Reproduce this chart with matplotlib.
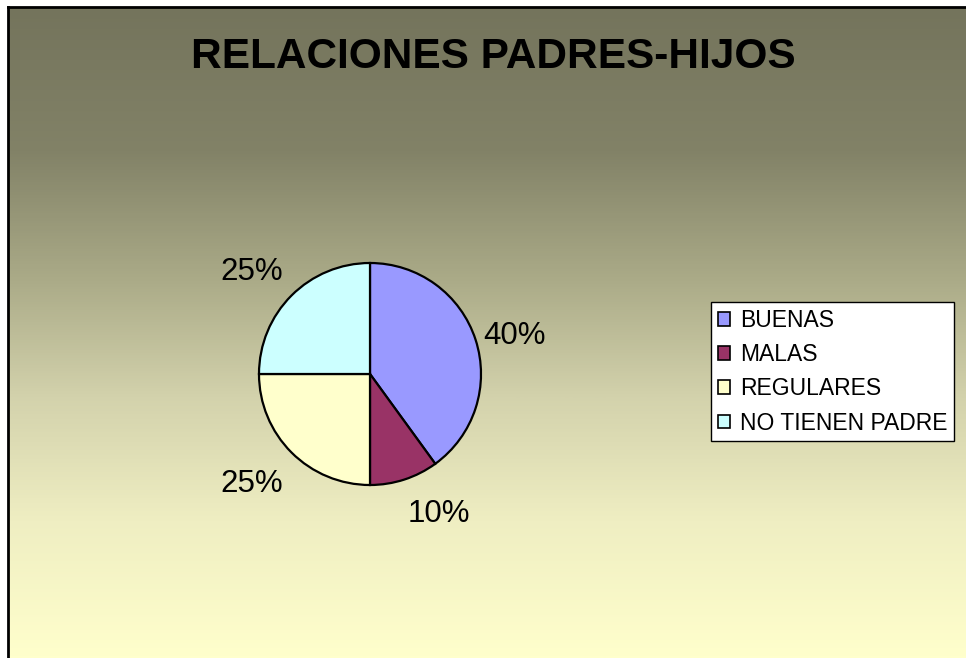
import numpy as np
import matplotlib
matplotlib.use("Agg")
import matplotlib.pyplot as plt
from matplotlib.patches import Patch
from matplotlib.colors import LinearSegmentedColormap

plt.rcParams['font.family'] = ['Liberation Sans', 'DejaVu Sans']

title = "RELACIONES PADRES-HIJOS"
categories = ["BUENAS", "MALAS", "REGULARES", "NO TIENEN PADRE"]
values = [40, 10, 25, 25]
colors = ["#9999FF", "#993366", "#FFFFCC", "#CCFFFF"]

W, H = 966, 658
fig = plt.figure(figsize=(W / 100, H / 100), dpi=100)
fig.patch.set_facecolor("white")

# background panel with vertical gradient
bg = fig.add_axes([8 / W, 0, 1 - 8 / W, 1 - 7 / H])
cmap = LinearSegmentedColormap.from_list(
    "bg", [(0.0, "#74745C"), (0.22, "#828267"), (0.42, "#ABAB88"),
           (0.60, "#D3D2AC"), (0.79, "#EFEEC2"), (1.0, "#FFFFCC")])
grad = np.linspace(0, 1, 512).reshape(-1, 1)
bg.imshow(grad, aspect="auto", cmap=cmap, extent=[0, 1, 0, 1], origin="upper")
bg.set_xlim(0, 1)
bg.set_ylim(0, 1)
bg.set_xticks([])
bg.set_yticks([])
for s in ["right", "bottom"]:
    bg.spines[s].set_visible(False)
for s in ["left", "top"]:
    bg.spines[s].set_linewidth(2)
    bg.spines[s].set_color("black")

fig.text(493 / W, 1 - 57 / H, title, ha="center", va="center",
         fontsize=30.5, fontweight="bold", color="black")

# pie
cx, cy, half = 370, 374, 150
R = 1.11
ax = fig.add_axes([(cx - half) / W, (H - cy - half) / H, 2 * half / W, 2 * half / H])
ax.set_facecolor("none")
wedges, _ = ax.pie(
    values, colors=colors, startangle=90, counterclock=False, radius=R,
    wedgeprops=dict(edgecolor="black", linewidth=1.6))
total = float(sum(values))
for w, v in zip(wedges, values):
    ang = np.deg2rad((w.theta1 + w.theta2) / 2)
    c, s = np.cos(ang), np.sin(ang)
    r = R + 0.12
    x, y = r * c, r * s
    ha = "left" if c >= 0 else "right"
    if s > 0.5:
        va = "bottom"
    elif s < -0.5:
        va = "top"
        y -= 0.08
    else:
        va = "center"
        x -= 0.04
    ax.text(x, y, "%.0f%%" % (100 * v / total), ha=ha, va=va,
            fontsize=22.5, color="black")
ax.set_xlim(-1.5, 1.5)
ax.set_ylim(-1.5, 1.5)
ax.set_aspect("equal")
ax.axis("off")

handles = [Patch(facecolor=c, edgecolor="black", linewidth=1.2) for c in colors]
leg = fig.legend(handles, categories, loc="upper left",
                 bbox_to_anchor=(711 / W, 1 - 302 / H), fontsize=16.5,
                 frameon=True, fancybox=False, edgecolor="black", facecolor="white",
                 framealpha=1, handlelength=0.55, handleheight=0.55,
                 handletextpad=0.42, labelspacing=0.49, borderpad=0.3,
                 borderaxespad=0)
leg.get_frame().set_linewidth(1.0)

fig.savefig("out.png", dpi=100, facecolor="white")
